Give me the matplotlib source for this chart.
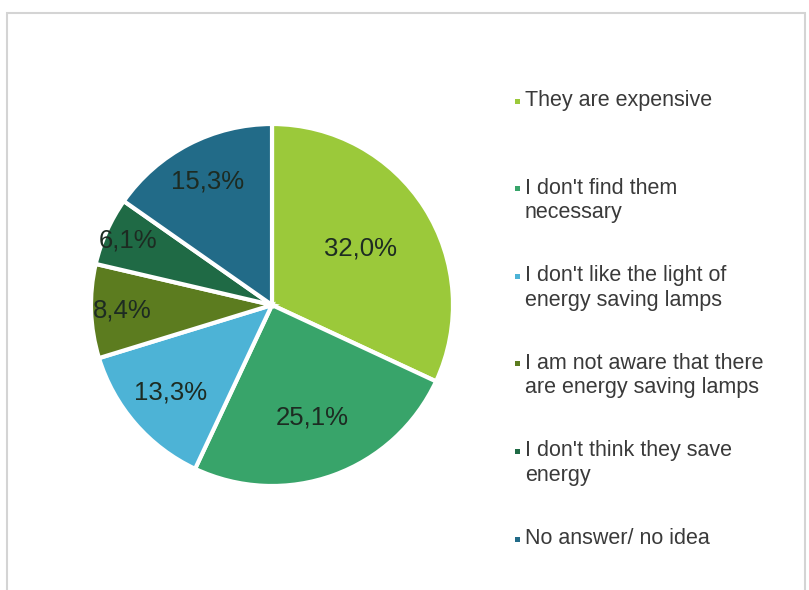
import numpy as np
import matplotlib
matplotlib.use('Agg')
import matplotlib.pyplot as plt
from matplotlib.patches import Rectangle

plt.rcParams['font.family'] = ['Liberation Sans', 'DejaVu Sans']

# data
labels = ['They are expensive',
          "I don't find them\nnecessary",
          "I don't like the light of\nenergy saving lamps",
          'I am not aware that there\nare energy saving lamps',
          "I don't think they save\nenergy",
          'No answer/ no idea']
values = [32.0, 25.1, 13.3, 8.4, 6.1, 15.3]
colors = ['#9bc93a', '#38a46a', '#4db3d6', '#5c7c1f', '#1f6a45', '#226b88']
# label distance from centre (fraction of radius), like excel best fit
lbl_dist = [0.58, 0.66, 0.74, 0.83, 0.87, 0.77]

W, H = 809, 590
fig = plt.figure(figsize=(W/100., H/100.), dpi=100)
fig.patch.set_facecolor('white')

# light frame
fig.patches.append(Rectangle((7./W, -0.05), (805.-7.)/W, (H-13.)/H + 0.05,
                             transform=fig.transFigure, fill=False,
                             edgecolor='#d4d4d4', linewidth=1.5))

cx, cy, r = 272., 305., 181.
ax = fig.add_axes([(cx-r)/W, (H-cy-r)/H, 2*r/W, 2*r/H])
wedges, texts = ax.pie(values, colors=colors, startangle=90, counterclock=False,
                       radius=1, wedgeprops=dict(edgecolor='white', linewidth=3))
ax.set_xlim(-1, 1)
ax.set_ylim(-1, 1)
ax.set_aspect('equal')
ax.axis('off')

for w, v, d in zip(wedges, values, lbl_dist):
    ang = np.deg2rad((w.theta1 + w.theta2) / 2.)
    ax.text(d*np.cos(ang), d*np.sin(ang), ('%.1f%%' % v).replace('.', ','),
            ha='center', va='center', fontsize=18.5, color='#1d2b22')

# legend
y0, dy = 101., 87.6
for i, (lab, c) in enumerate(zip(labels, colors)):
    y = y0 + i*dy
    fig.patches.append(Rectangle(((517.-2.5)/W, (H-y-2.5)/H), 5./W, 5./H,
                                 transform=fig.transFigure, color=c, linewidth=0))
    fig.text(525./W, (H-y+11.)/H, lab, ha='left', va='top', fontsize=15.5,
             color='#3a3a3a', linespacing=1.22)

fig.savefig('out.png', dpi=100)
